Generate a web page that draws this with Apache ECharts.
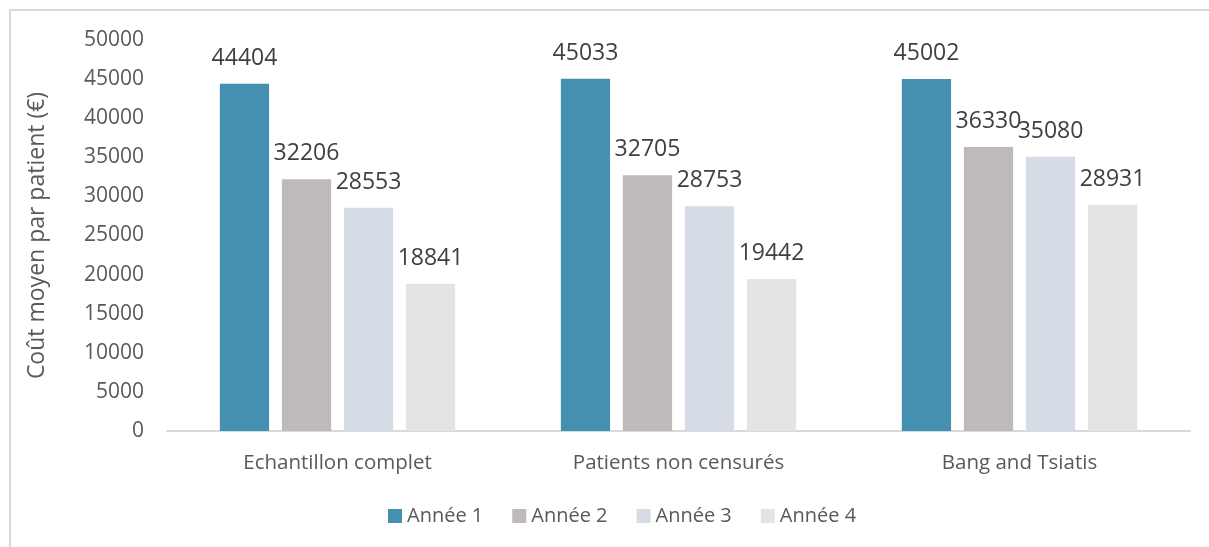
<!DOCTYPE html>
<html>
<head>
<meta charset="utf-8">
<title>Coût moyen par patient</title>
<script src="https://cdn.jsdelivr.net/npm/echarts@6/dist/echarts.min.js"></script>
<style>
    html, body { margin: 0; padding: 0; background: #fff; }
    #chart { width: 1209px; height: 547px; }
</style>
</head>
<body>
<div id="chart"></div>
<script>
// 类目与各年份数值
var categories = ["Echantillon complet", "Patients non censurés", "Bang and Tsiatis"];
var annee1 = [44404, 45033, 45002];
var annee2 = [32206, 32705, 36330];
var annee3 = [28553, 28753, 35080];
var annee4 = [18841, 19442, 28931];
var seriesNames = ["Année 1", "Année 2", "Année 3", "Année 4"];
var seriesColors = ["#458fb0", "#bebab9", "#d5dce5", "#e4e4e4"];

var FONT = "'Open Sans', 'Noto Sans', sans-serif";

function makeSeries(name, data, color) {
    return {
        name: name,
        type: "bar",
        data: data,
        barGap: "26%",
        barCategoryGap: "31%",
        itemStyle: { color: color },
        label: {
            show: true,
            position: "top",
            distance: 14,
            fontFamily: FONT,
            fontSize: 23,
            color: "#404040"
        }
    };
}

var myChart = echarts.init(document.getElementById("chart"), null, { renderer: "canvas" });
var option = {
    backgroundColor: "#fff",
    animation: false,
    textStyle: { fontFamily: FONT },
    // 外框：只看得到左边和上边
    graphic: [{
        type: "rect",
        shape: { x: 10, y: 10, width: 1400, height: 800 },
        style: { fill: null, stroke: "#d9d9d9", lineWidth: 2 },
        silent: true
    }],
    grid: { left: 167, right: 19, top: 40, bottom: 116 },
    legend: {
        bottom: 16,
        left: 383,
        itemWidth: 14,
        itemHeight: 14,
        itemGap: 29,
        icon: "rect",
        textStyle: { fontFamily: FONT, fontSize: 20, color: "#595959" },
        data: seriesNames
    },
    xAxis: {
        type: "category",
        data: categories,
        axisLine: { lineStyle: { color: "#d9d9d9", width: 2 } },
        axisTick: { show: false },
        axisLabel: { fontFamily: FONT, fontSize: 20.5, color: "#595959", margin: 22 }
    },
    yAxis: {
        type: "value",
        min: 0,
        max: 50000,
        interval: 5000,
        name: "Coût moyen par patient (€)",
        nameLocation: "middle",
        nameGap: 118,
        nameTextStyle: { fontFamily: FONT, fontSize: 23, color: "#595959" },
        axisLine: { show: false },
        axisTick: { show: false },
        splitLine: { show: false },
        axisLabel: {
            fontFamily: FONT,
            fontSize: 21,
            color: "#595959",
            margin: 23,
            formatter: function (v) { return String(v); }
        }
    },
    series: [
        makeSeries(seriesNames[0], annee1, seriesColors[0]),
        makeSeries(seriesNames[1], annee2, seriesColors[1]),
        makeSeries(seriesNames[2], annee3, seriesColors[2]),
        makeSeries(seriesNames[3], annee4, seriesColors[3])
    ]
};
myChart.setOption(option);
</script>
</body>
</html>
